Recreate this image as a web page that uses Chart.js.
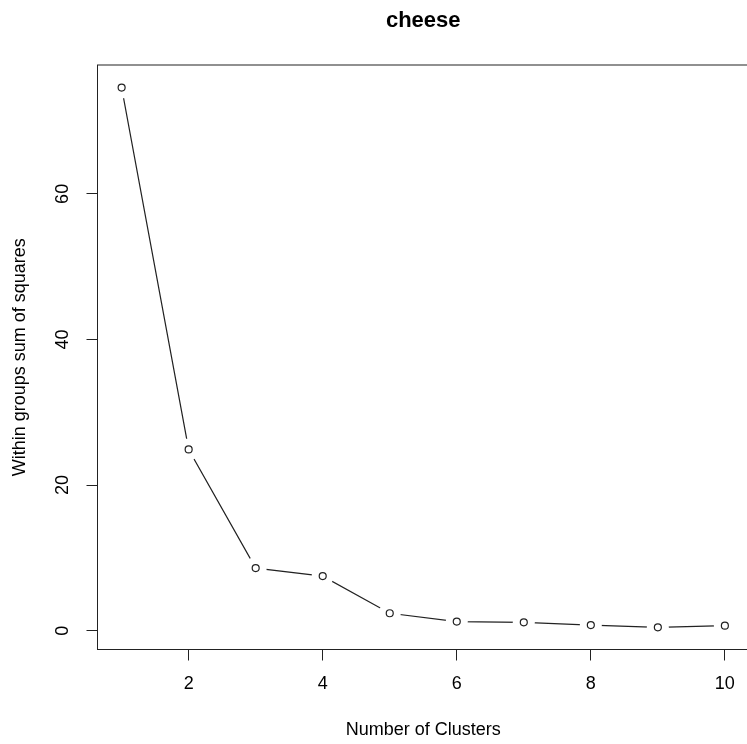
<!DOCTYPE html>
<html>
<head>
<meta charset="utf-8">
<script src="https://cdn.jsdelivr.net/npm/chart.js@4/dist/chart.umd.min.js"></script>
<style>
  html, body { margin: 0; padding: 0; background: #fff; overflow: hidden; }
  #wrap { width: 760px; height: 744px; }
</style>
</head>
<body>
<div id="wrap"><canvas id="chart" width="760" height="744"></canvas></div>
<script>
// values
const clusters = [1, 2, 3, 4, 5, 6, 7, 8, 9, 10]
const withinSS = [74.6, 24.9, 8.6, 7.5, 2.4, 1.25, 1.15, 0.78, 0.47, 0.69]
const xTicks = [2, 4, 6, 8, 10]
const yTicks = [0, 20, 40, 60]

const chartTitle = 'cheese'
const xTitle = 'Number of Clusters'
const yTitle = 'Within groups sum of squares'

const font = "'Liberation Sans', Arial, sans-serif"
const ink = '#222'

const points = clusters.map((c, i) => ({ x: c, y: withinSS[i] }))

// box around the plot, titles and rotated y tick labels, R style
const rDecor = {
  id: 'rDecor',
  afterDraw(chart) {
    const { ctx, chartArea: a, scales } = chart
    ctx.save()
    ctx.strokeStyle = ink
    ctx.lineWidth = 1
    ctx.strokeRect(a.left, a.top, a.right - a.left, a.bottom - a.top)

    ctx.fillStyle = '#000'
    ctx.textAlign = 'center'
    ctx.textBaseline = 'middle'

    ctx.font = `bold 22px ${font}`
    ctx.fillText(chartTitle, (a.left + a.right) / 2, 21)

    ctx.font = `18px ${font}`
    ctx.fillText(xTitle, (a.left + a.right) / 2, 730)

    ctx.save()
    ctx.translate(20, (a.top + a.bottom) / 2)
    ctx.rotate(-Math.PI / 2)
    ctx.fillText(yTitle, 0, 0)
    ctx.restore()

    yTicks.forEach(v => {
      const y = scales.y.getPixelForValue(v)
      ctx.save()
      ctx.translate(63, y)
      ctx.rotate(-Math.PI / 2)
      ctx.fillText(String(v), 0, 0)
      ctx.restore()
    })
    ctx.restore()
  }
}

new Chart(document.getElementById('chart'), {
  type: 'line',
  data: {
    datasets: [
      {
        // the connecting line
        data: points,
        borderColor: ink,
        borderWidth: 1.2,
        pointRadius: 0,
        fill: false,
        order: 3
      },
      {
        // white halo that opens the gaps around each point (type = "b")
        data: points,
        showLine: false,
        pointRadius: 11,
        pointBorderWidth: 0,
        pointBackgroundColor: '#fff',
        pointBorderColor: '#fff',
        order: 2
      },
      {
        data: points,
        showLine: false,
        pointRadius: 3.5,
        pointBorderWidth: 1.2,
        pointBackgroundColor: '#fff',
        pointBorderColor: ink,
        order: 1
      }
    ]
  },
  options: {
    responsive: false,
    animation: false,
    events: [],
    layout: { padding: { top: 65, right: 9, left: 0, bottom: 0 } },
    plugins: {
      legend: { display: false },
      tooltip: { enabled: false },
      title: { display: false }
    },
    scales: {
      x: {
        type: 'linear',
        min: 0.64,
        max: 10.36,
        afterBuildTicks: s => { s.ticks = xTicks.map(v => ({ value: v })) },
        afterFit: s => { s.height = 94.5 },
        grid: { drawOnChartArea: false, drawTicks: true, tickLength: 11, color: ink },
        border: { display: false },
        ticks: { color: '#000', font: { family: font, size: 18 }, padding: 13, maxRotation: 0 }
      },
      y: {
        type: 'linear',
        min: -2.58,
        max: 77.7,
        afterBuildTicks: s => { s.ticks = yTicks.map(v => ({ value: v })) },
        afterFit: s => { s.width = 97.5 },
        grid: { drawOnChartArea: false, drawTicks: true, tickLength: 11, color: ink },
        border: { display: false },
        ticks: { display: false }
      }
    }
  },
  plugins: [rDecor]
})
</script>
</body>
</html>
